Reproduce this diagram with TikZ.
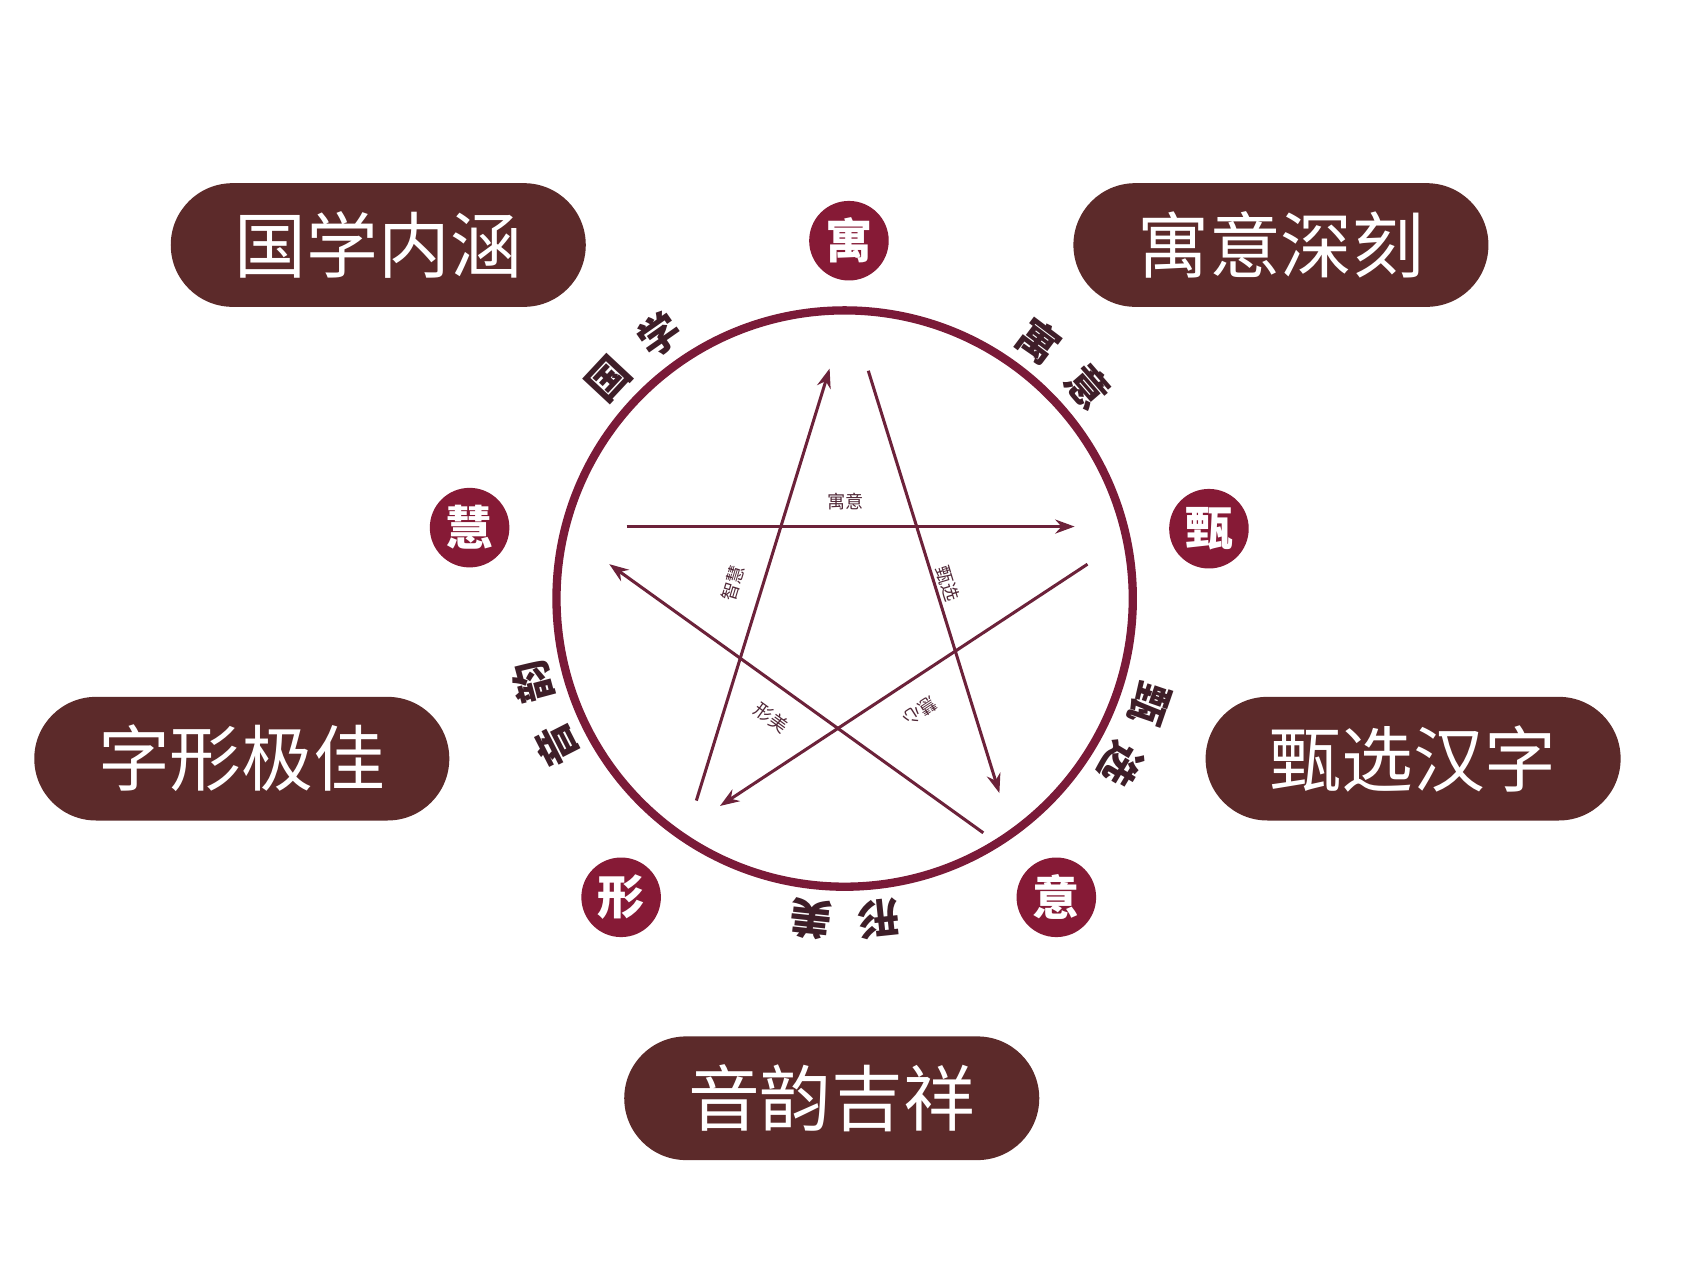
\documentclass[tikz,border=0pt]{standalone}
\usepackage{fontspec}
\newfontfamily\cjk{Noto Sans CJK SC}
\usetikzlibrary{arrows.meta}

\definecolor{ringred}{RGB}{122,26,56}
\definecolor{dotred}{RGB}{134,26,54}
\definecolor{starred}{RGB}{108,34,58}
\definecolor{pillbrown}{RGB}{92,42,42}
\definecolor{arcdark}{RGB}{62,30,40}
\definecolor{tagdark}{RGB}{80,40,55}

\begin{document}
\begin{tikzpicture}[
		x=0.01cm, y=-0.01cm,
		pill/.style={fill=pillbrown, rounded corners=0.575cm, minimum width=3.86cm, minimum height=1.15cm, text=white, font=\cjk\fontsize{19}{19}\selectfont},
		dot/.style={circle, fill=dotred, minimum size=0.74cm, inner sep=0pt, text=white, font=\cjk\bfseries\fontsize{12.5}{12.5}\selectfont},
		arclabel/.style={text=arcdark, inner sep=0pt, font=\cjk\bfseries\fontsize{11}{11}\selectfont},
		tag/.style={text=tagdark, inner sep=0pt, font=\cjk\fontsize{4.8}{4.8}\selectfont},
		arrow/.style={-{Stealth[length=1.8mm, width=1.3mm]}, line width=0.8pt, draw=starred}
	]
	
		\fill[white] (0,0) rectangle (1568,1191);
		\useasboundingbox (0,0) rectangle (1568,1191);
		
		% Boxes
		\node[pill] (guoxue) at (352,228) {国学内涵};
		\node[pill] (yuyi) at (1192,228) {寓意深刻};
		\node[pill] (zixing) at (225,706) {字形极佳};
		\node[pill] (zhenxuan) at (1315,706) {甄选汉字};
		\node[pill] (yinyun) at (774,1022) {音韵吉祥};
		
		% Ring
		\node[draw=ringred, line width=2.2pt, circle, minimum size=5.36cm, inner sep=0pt] (ring) at (786,557) {};
		
		% Vertices
		\node[dot] (yu) at (790,224) {寓};
		\node[dot] (zhen) at (1125,492) {甄};
		\node[dot] (yi) at (983,835) {意};
		\node[dot] (xing) at (578,835) {形};
		\node[dot] (hui) at (437,491) {慧};
		
		% Labels round the ring
		\foreach \a/\c in {137/国, 125/学, 53/寓, 41/意, -19/甄, -31/选, -84/形, -96/美, 207/音, 195/韵}
			\node[arclabel, rotate=\a-90] at ([shift={(\a:3.0cm)}]ring.center) {\c};
		
		% Star ends
		\coordinate (a1) at (648,745);
		\coordinate (a2) at (772,343);
		\coordinate (b1) at (808,345);
		\coordinate (b2) at (930,738);
		\coordinate (c1) at (583,490);
		\coordinate (c2) at (1000,490);
		\coordinate (d1) at (1012,525);
		\coordinate (d2) at (670,750);
		\coordinate (e1) at (915,775);
		\coordinate (e2) at (567,525);
		
		% Arrows
		\draw[arrow] (a1) -- (a2);
		\draw[arrow] (b1) -- (b2);
		\draw[arrow] (c1) -- (c2);
		\draw[arrow] (d1) -- (d2);
		\draw[arrow] (e1) -- (e2);
		
		% Star labels
		\node[tag] (tyuyi) at (787,467) {寓意};
		\node[tag, rotate=-73] (tzhen) at (882,543) {甄选};
		\node[tag, rotate=73] (thui) at (682,543) {智慧};
		\node[tag, rotate=-36] (txing) at (718,668) {形美};
		\node[tag, rotate=-147] (txin) at (856,662) {慧心};
		
	\end{tikzpicture}
\end{document}
